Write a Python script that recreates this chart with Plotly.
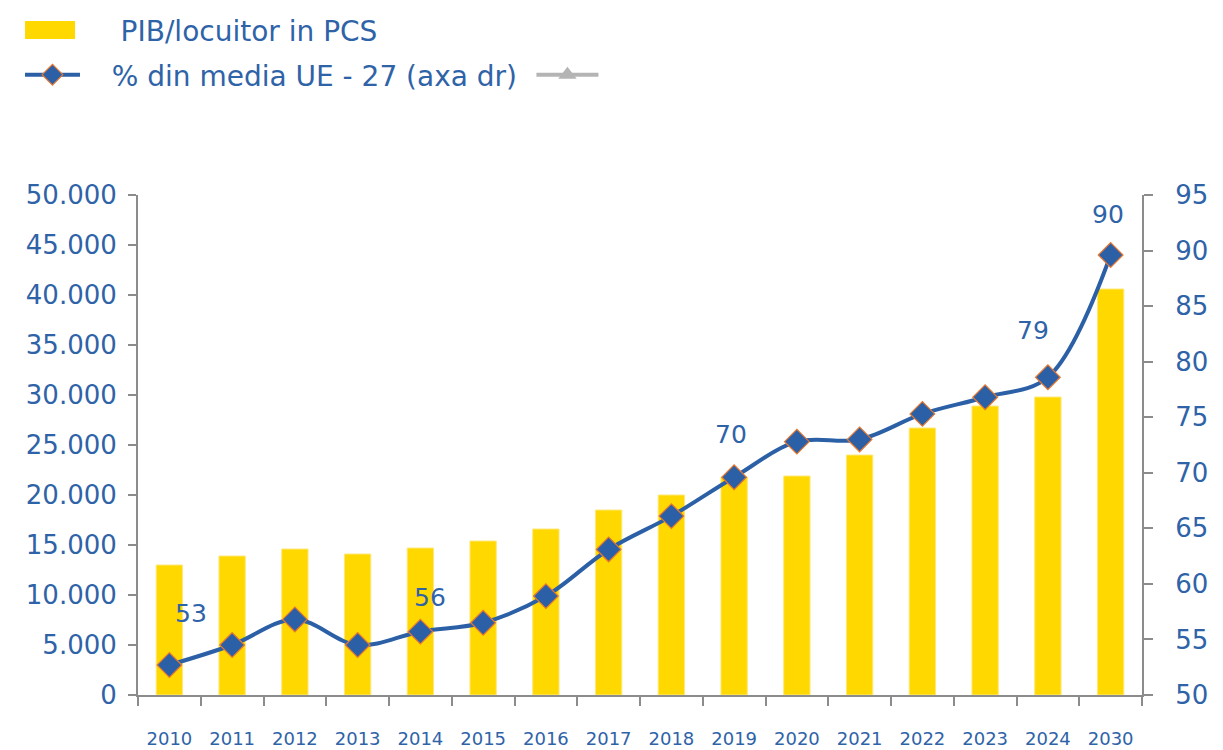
import plotly.graph_objects as go

years = ["2010", "2011", "2012", "2013", "2014", "2015", "2016", "2017",
         "2018", "2019", "2020", "2021", "2022", "2023", "2024", "2030"]
pib_pcs = [13000, 13900, 14600, 14100, 14700, 15400, 16600, 18500,
           20000, 21800, 21900, 24000, 26700, 28900, 29800, 40600]
pct_ue27 = [52.7, 54.5, 56.8, 54.5, 55.7, 56.5, 58.9, 63.1,
            66.1, 69.6, 72.8, 73.0, 75.3, 76.8, 78.6, 89.6]
labelled_years = ["2010", "2014", "2019", "2024", "2030"]

BLUE = "#2C60A6"
TEXT = "#2F63A8"
YELLOW = "#FFD800"
GRAY = "#8C8C8C"
FONT = "DejaVu Sans"
NB = "\u00a0"

label_offsets = {"2010": (22, 52), "2014": (10, 34), "2019": (-3, 43),
                 "2024": (-15, 47), "2030": (-3, 41)}

fig = go.Figure()
fig.add_trace(go.Bar(
    x=years, y=pib_pcs, name="PIB/locuitor in PCS",
    marker=dict(color=YELLOW, line=dict(color="#FFE87A", width=1)),
    width=0.42, yaxis="y", showlegend=False,
))
# legend entry for the bars (swatch drawn as a shape below)
fig.add_trace(go.Scatter(
    x=years, y=[None] * len(years), name=NB * 4 + "PIB/locuitor in PCS",
    mode="lines", yaxis="y", legend="legend",
    line=dict(color="rgba(0,0,0,0)", width=2),
))
fig.add_trace(go.Scatter(
    x=years, y=pct_ue27, name=NB * 3 + "% din media UE - 27 (axa dr)",
    mode="lines+markers", yaxis="y2", legend="legend3",
    line=dict(color=BLUE, width=4, shape="spline", smoothing=1),
    marker=dict(symbol="diamond", size=19, color=BLUE,
                line=dict(color="#E8772E", width=1.2)),
))
fig.add_trace(go.Scatter(
    x=years, y=[None] * len(years), name=" ",
    mode="lines+markers", yaxis="y2", legend="legend2",
    line=dict(color="#B4B4B4", width=4),
    marker=dict(symbol="triangle-up", size=20, color="#B4B4B4"),
))

for yr in labelled_years:
    i = years.index(yr)
    dx, dy = label_offsets[yr]
    fig.add_annotation(
        x=i, y=pct_ue27[i], xref="x", yref="y2",
        text=str(round(pct_ue27[i])), showarrow=False,
        xshift=dx, yshift=dy,
        font=dict(family=FONT, size=25, color=TEXT),
    )

# wide yellow legend swatch for the bar series
fig.add_shape(type="rect", xref="paper", yref="paper",
              x0=-0.1125, x1=-0.0627, y0=1.312, y1=1.348,
              fillcolor=YELLOW, line=dict(width=0), layer="above")

legend_common = dict(
    xref="container", yref="container", xanchor="left", yanchor="middle",
    font=dict(family=FONT, size=28, color=TEXT),
    itemwidth=55, bgcolor="rgba(0,0,0,0)",
)

fig.update_layout(
    width=1223, height=750,
    paper_bgcolor="white", plot_bgcolor="white",
    margin=dict(l=130, r=89, t=187, b=63, autoexpand=False),
    separators=",.",
    font=dict(family=FONT, color=TEXT),
    showlegend=True,
    legend=dict(x=0.0098, y=0.9707, **legend_common),
    legend3=dict(x=0.0098, y=0.9107, **legend_common),
    legend2=dict(x=0.428, y=0.9107, **dict(legend_common, itemwidth=62)),
    xaxis=dict(
        type="category", range=[-0.5, len(years) - 0.5],
        showline=True, linecolor=GRAY, linewidth=2,
        ticks="outside", ticklen=9, tickcolor=GRAY, tickwidth=2,
        tickson="boundaries", showgrid=False, tickangle=0,
        tickfont=dict(family=FONT, size=18, color=TEXT),
        ticklabelstandoff=26,
    ),
    yaxis=dict(
        range=[0, 50000], dtick=5000, tickformat=",d",
        showline=True, linecolor=GRAY, linewidth=2,
        ticks="outside", ticklen=8, tickcolor=GRAY, tickwidth=2,
        showgrid=False, zeroline=False,
        tickfont=dict(family=FONT, size=26, color=TEXT),
        ticklabelstandoff=6,
    ),
    yaxis2=dict(
        range=[50, 95], dtick=5, overlaying="y", side="right",
        showline=True, linecolor=GRAY, linewidth=2,
        ticks="outside", ticklen=9, tickcolor=GRAY, tickwidth=2,
        showgrid=False, zeroline=False,
        tickfont=dict(family=FONT, size=26, color=TEXT),
        ticklabelstandoff=17,
    ),
)

fig.write_html("out.html")
